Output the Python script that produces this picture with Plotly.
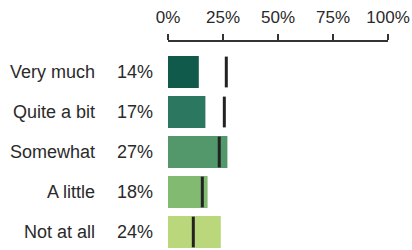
import plotly.graph_objects as go

categories = ["Very much", "Quite a bit", "Somewhat", "A little", "Not at all"]
values = [14, 17, 27, 18, 24]
benchmarks = [26.5, 25.6, 23.3, 15.6, 11.5]
colors = ["#0f5a4b", "#2b775f", "#52986a", "#82ba72", "#bbd77c"]
tick_vals = [0, 25, 50, 75, 100]
tick_text = ["0%", "25%", "50%", "75%", "100%"]

FONT = "Liberation Sans, Arial, sans-serif"
TXT = "#2a2a2a"

fig = go.Figure()
fig.add_trace(go.Bar(
    x=values, y=categories, orientation="h",
    marker=dict(color=colors, line=dict(width=0)),
    width=0.8, hoverinfo="skip",
))
fig.add_trace(go.Scatter(
    x=benchmarks, y=categories, mode="markers",
    marker=dict(symbol="line-ns-open", size=22, color="#222222",
                line=dict(width=3, color="#222222")),
    hoverinfo="skip",
))

annotations = []
for c, v in zip(categories, values):
    annotations.append(dict(x=-0.3227, xref="paper", y=c, yref="y", text=c,
                            showarrow=False, xanchor="right",
                            font=dict(family=FONT, size=18, color=TXT)))
    annotations.append(dict(x=-0.059, xref="paper", y=c, yref="y", text=f"{v}%",
                            showarrow=False, xanchor="right",
                            font=dict(family=FONT, size=18, color=TXT)))

fig.update_layout(
    width=412, height=250,
    margin=dict(l=168, r=24, t=42, b=0),
    paper_bgcolor="white", plot_bgcolor="white",
    showlegend=False,
    annotations=annotations,
    xaxis=dict(side="top", range=[0, 100], tickvals=tick_vals, ticktext=tick_text,
               showgrid=False, zeroline=False, showline=True, linecolor="#333333",
               linewidth=1.5, ticks="outside", ticklen=6, tickwidth=1.5,
               tickcolor="#333333", tickfont=dict(family=FONT, size=17, color=TXT),
               ticklabelstandoff=4, fixedrange=True),
    yaxis=dict(categoryorder="array", categoryarray=categories,
               range=[4.45, -0.75], autorange=False, showticklabels=False,
               showgrid=False, zeroline=False, showline=False, ticks="",
               fixedrange=True),
)

fig.write_html("out.html", config={"displayModeBar": False},
               post_script="document.body.style.margin='0';document.body.style.overflow='hidden';")
